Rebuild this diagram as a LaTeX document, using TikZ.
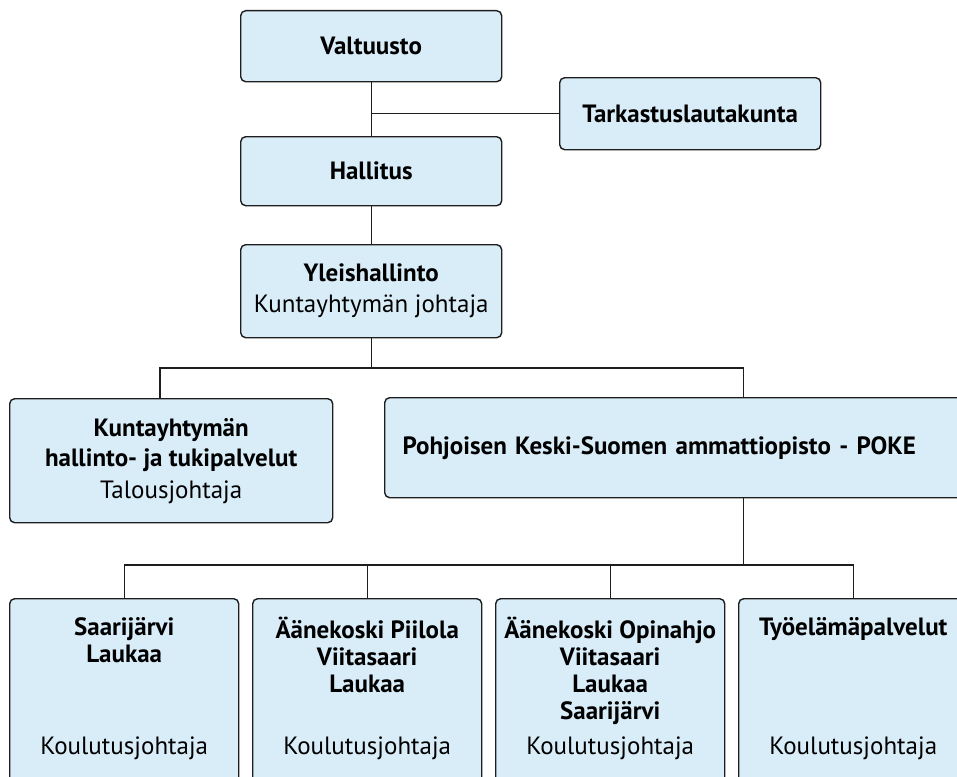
\documentclass[tikz,border=0pt]{standalone}
\usepackage{fontspec}
\setmainfont{PT Sans}
\usetikzlibrary{positioning}
\definecolor{boxblue}{RGB}{217,237,249}
\definecolor{linegray}{RGB}{30,30,30}

\begin{document}
\begin{tikzpicture}[x=1pt,y=-1pt,
    orgbox/.style={draw=linegray,line width=1.4pt,fill=boxblue,rounded corners=5pt,
        anchor=north west,inner sep=0pt,align=center,
        font=\fontsize{25}{30}\selectfont},
    unitbox/.style={orgbox,minimum width=229pt,minimum height=200pt},
    title/.style={anchor=north,align=center,inner sep=0pt,
        font=\fontsize{25}{27}\selectfont\bfseries},
    job/.style={inner sep=0pt,font=\fontsize{25}{27}\selectfont},
    conn/.style={draw=linegray,line width=1.2pt},
    ]
\useasboundingbox (0,0) rectangle (957,776);

% governing bodies
\node[orgbox,minimum width=261pt,minimum height=71pt] (valt) at (240,10) {\bfseries Valtuusto};
\node[orgbox,minimum width=261pt,minimum height=72pt] (tark) at (559,77) {\bfseries Tarkastuslautakunta};
\node[orgbox,minimum width=261pt,minimum height=69pt] (hall) at (240,136) {\bfseries Hallitus};
\node[orgbox,minimum width=261pt,minimum height=93pt] (yleis) at (240,244)
    {\textbf{Yleishallinto}\\[1pt]Kuntayhtymän johtaja};

% second level
\node[orgbox,minimum width=323pt,minimum height=124pt] (kunta) at (9,398)
    {\textbf{Kuntayhtymän}\\\textbf{hallinto- ja tukipalvelut}\\[2pt]Talousjohtaja};
\node[orgbox,minimum width=700pt,minimum height=100pt,align=left,
    text width=682pt,inner xsep=18pt] (poke) at (384,397)
    {\bfseries Pohjoisen Keski-Suomen ammattiopisto - POKE};

% units
\node[unitbox] (u1) at (9,598) {};
\node[unitbox] (u2) at (252,598) {};
\node[unitbox] (u3) at (495,598) {};
\node[unitbox] (u4) at (738,598) {};

\node[title] (u1t) at (u1.north |- 0,617) {Saarijärvi\\Laukaa};
\node[title] (u2t) at (u2.north |- 0,617) {Äänekoski Piilola\\Viitasaari\\Laukaa};
\node[title] (u3t) at (u3.north |- 0,617) {Äänekoski Opinahjo\\Viitasaari\\Laukaa\\Saarijärvi};
\node[title] (u4t) at (u4.north |- 0,617) {Työelämäpalvelut};

\node[job] (u1j) at (u1.north |- 0,748) {Koulutusjohtaja};
\node[job] (u2j) at (u2.north |- 0,748) {Koulutusjohtaja};
\node[job] (u3j) at (u3.north |- 0,748) {Koulutusjohtaja};
\node[job] (u4j) at (u4.north |- 0,748) {Koulutusjohtaja};

% connectors
\coordinate (kj) at (160,368);
\coordinate (pj) at (poke.south |- 0,565);
\draw[conn] (valt) -- (hall);
\draw[conn] (valt.south |- tark.west) -- (tark.west);
\draw[conn] (hall) -- (yleis);
\draw[conn] (yleis.south) -- (yleis.south |- kj);
\draw[conn] (kj |- kunta.north) -- (kj) -| (poke.north);
\draw[conn] (poke.south) -- (pj);
\draw[conn] (u1.north) |- (pj) -| (u4.north);
\draw[conn] (u2.north) -- (u2.north |- pj);
\draw[conn] (u3.north) -- (u3.north |- pj);
\end{tikzpicture}
\end{document}
